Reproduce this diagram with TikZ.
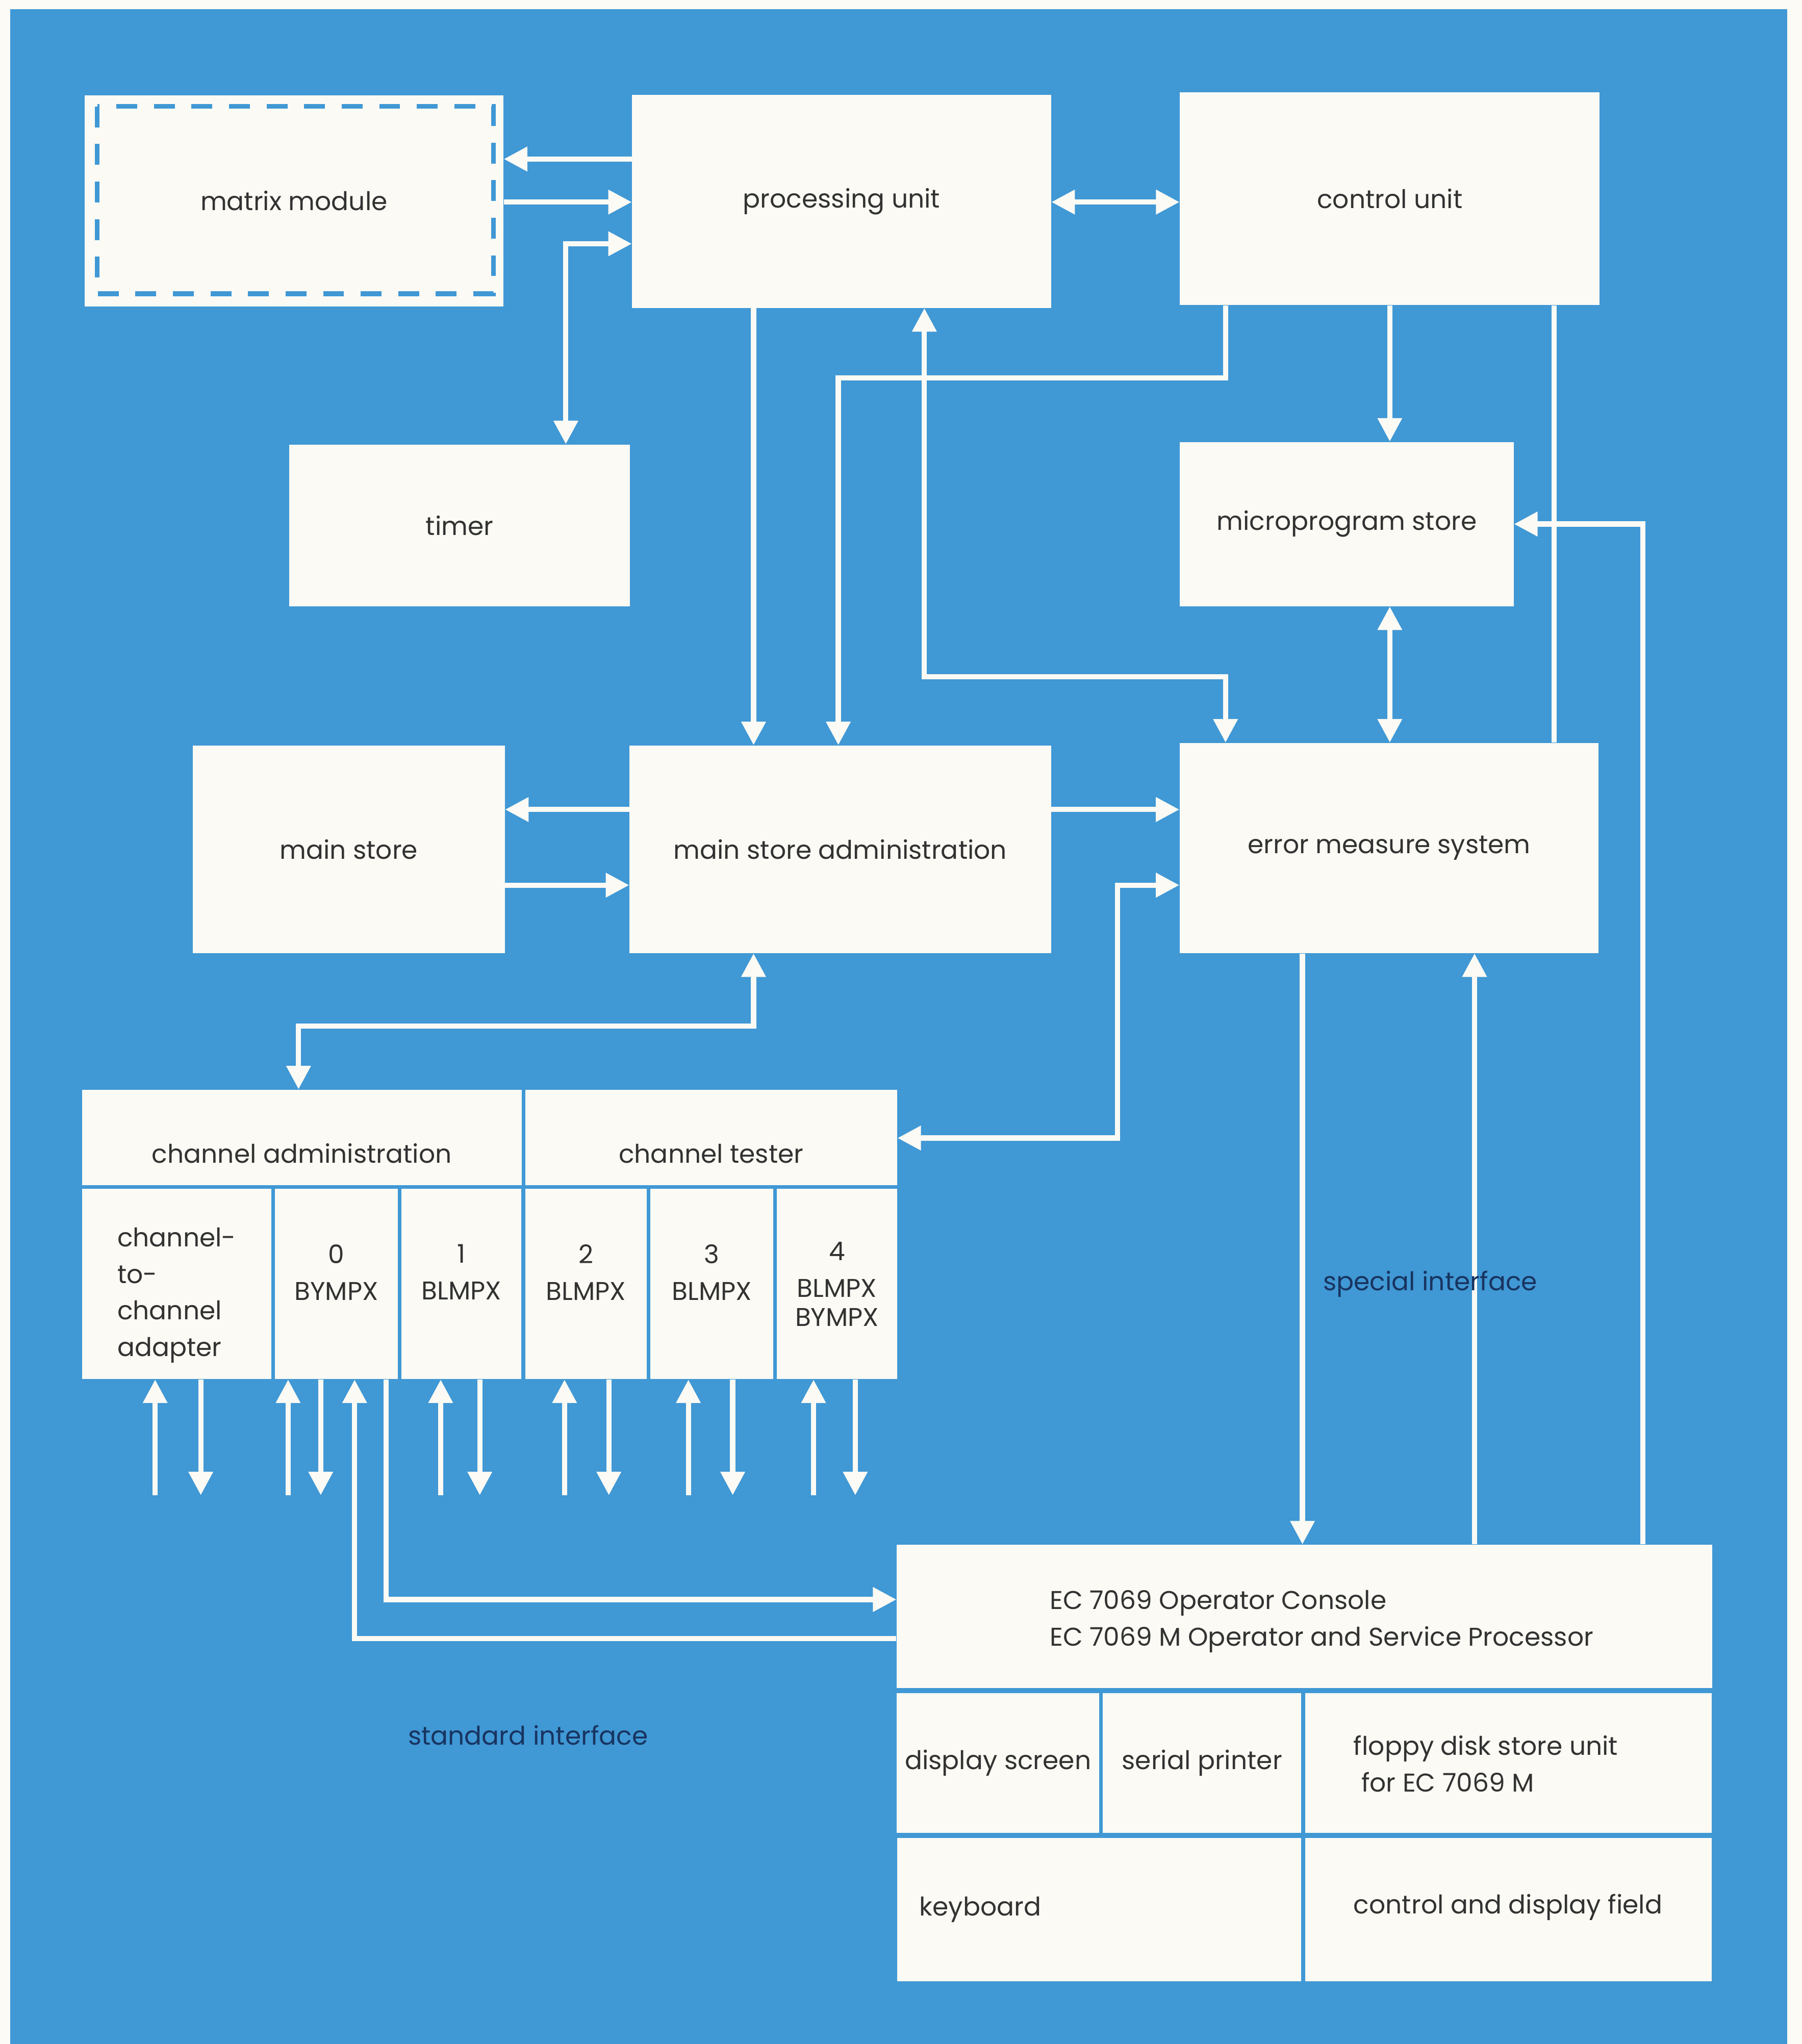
\documentclass[tikz,border=0pt]{standalone}
\usepackage{fontspec}
\setmainfont{Poppins}
\usetikzlibrary{arrows.meta}
\definecolor{blueColor}{RGB}{64,152,213}
\definecolor{paperColor}{RGB}{251,250,244}
\definecolor{marginColor}{RGB}{253,251,245}
\definecolor{inkColor}{RGB}{50,50,50}
\definecolor{labelColor}{RGB}{24,52,96}

\begin{document}
\begin{tikzpicture}[x=0.025cm, y=-0.025cm,
    >={Triangle[length=4.5mm,width=4.5mm]},
    box/.style={fill=paperColor, text=inkColor, inner sep=0pt, font=\fontsize{14}{20}\selectfont},
    txt/.style={text=inkColor, inner sep=0pt, anchor=west, align=left, font=\fontsize{14}{20}\selectfont},
    lbl/.style={text=labelColor, inner sep=0pt, font=\fontsize{14}{20}\selectfont},
    flow/.style={draw=paperColor, line width=1mm, ->},
    biflow/.style={flow, <->},
    wire/.style={draw=paperColor, line width=1mm},
    dashbox/.style={draw=blueColor, line width=0.9mm, dash pattern=on 4mm off 3.2mm}]
    \useasboundingbox (0,0) rectangle (1382,1568);
    \fill[marginColor] (0,0) rectangle (1382,1568);
    \fill[blueColor] (8,7) rectangle (1371,1568);

    % upper part
    \node[box, minimum width=8.03cm, minimum height=4.05cm] (matrix) at (225.5,154) {matrix module};
    \draw[dashbox] ([shift={(10,9)}]matrix.north west) rectangle ([shift={(-8,-10)}]matrix.south east);
    \node[box, minimum width=8.03cm, minimum height=4.08cm] (processing) at (645.5,154.5) {processing unit};
    \node[box, minimum width=8.05cm, minimum height=4.08cm] (control) at (1066,152.5) {control unit};
    \node[box, minimum width=6.53cm, minimum height=3.1cm] (timer) at (352.5,403) {timer};
    \node[box, minimum width=6.4cm, minimum height=3.15cm] (microprogram) at (1033,402) {microprogram store};
    \node[box, minimum width=5.98cm, minimum height=3.98cm] (mainstore) at (267.5,651.5) {main store};
    \node[box, minimum width=8.08cm, minimum height=3.98cm] (admin) at (644.5,651.5) {main store administration};
    \node[box, minimum width=8.03cm, minimum height=4.03cm] (error) at (1065.5,650.5) {error measure system};

    % channels
    \node[box, minimum width=8.43cm, minimum height=1.83cm, text height=0.98cm, text depth=0pt] (chanadmin) at (231.5,872.5) {channel administration};
    \node[box, minimum width=7.13cm, minimum height=1.83cm, text height=0.98cm, text depth=0pt] (chantester) at (545.5,872.5) {channel tester};
    \node[box, minimum width=3.63cm, minimum height=3.65cm, align=left] (ctc) at (135.5,985) {\phantom{B}\\[-0.25cm]channel-\\to-\\channel\\adapter};
    \foreach \n/\x/\w/\kind in {0/258/2.35/BYMPX, 1/354/2.3/BLMPX, 2/449.5/2.33/BLMPX, 3/546/2.35/BLMPX}
        \node[box, minimum width=\w cm, minimum height=3.65cm, align=center] (ch\n) at (\x,985) {\n\\\kind\\[-0.25cm]\phantom{B}};
    \node[box, minimum width=2.3cm, minimum height=3.65cm, align=center] (ch4) at (642,985) {4\\BLMPX\\[-0.15cm]BYMPX};

    % console
    \node[box, minimum width=15.63cm, minimum height=2.75cm] (console) at (1000.5,1240) {};
    \node[txt] (consoletext) at (805,1244) {EC 7069 Operator Console\\EC 7069 M Operator and Service Processor};
    \node[box, minimum width=3.88cm, minimum height=2.68cm] (screen) at (765.5,1352.5) {display screen};
    \node[box, minimum width=3.8cm, minimum height=2.68cm] (printer) at (922,1352.5) {serial printer};
    \node[box, minimum width=7.8cm, minimum height=2.68cm] (floppy) at (1157,1352.5) {};
    \node[txt] (floppytext) at (1038,1353) {floppy disk store unit\\\hspace*{0.3em}for EC 7069 M};
    \node[box, minimum width=7.75cm, minimum height=2.75cm] (keyboard) at (843,1465) {};
    \node[txt] (keyboardtext) at (705,1465) {keyboard};
    \node[box, minimum width=7.8cm, minimum height=2.75cm] (field) at (1157,1465) {};
    \node[txt] (fieldtext) at (1038,1463) {control and display field};

    % connectors
    \draw[flow] (processing.west |- 0,122) -- (matrix.east |- 0,122);
    \draw[flow] (matrix.east |- 0,155) -- (processing.west |- 0,155);
    \draw[biflow] (timer.north -| 434,0) |- (processing.west |- 0,187);
    \draw[biflow] (processing.east |- 0,155) -- (control.west |- 0,155);
    \draw[flow] (processing.south -| 578,0) -- (admin.north -| 578,0);
    \draw[flow] (control.south -| 940,0) |- (643,290) -- (admin.north -| 643,0);
    \draw[biflow] (processing.south -| 709,0) |- (940,519) -- (error.north -| 940,0);
    \draw[flow] (control.south -| 1066,0) -- (microprogram.north -| 1066,0);
    \draw[biflow] (microprogram.south -| 1066,0) -- (error.north -| 1066,0);
    \draw[wire] (control.south -| 1192,0) -- (error.north -| 1192,0);
    \draw[flow] (console.north -| 1260,0) |- (microprogram.east |- 0,402);
    \draw[flow] (admin.west |- 0,621) -- (mainstore.east |- 0,621);
    \draw[flow] (mainstore.east |- 0,679) -- (admin.west |- 0,679);
    \draw[flow] (admin.east |- 0,621) -- (error.west |- 0,621);
    \draw[biflow] (error.west |- 0,679) -| (857,873) -- (chantester.east |- 0,873);
    \draw[biflow] (admin.south -| 578,0) |- (229,787) -- (chanadmin.north -| 229,0);
    \draw[flow] (error.south -| 999,0) -- (console.north -| 999,0);
    \draw[flow] (console.north -| 1131,0) -- (error.south -| 1131,0);
    \draw[flow] (ch0.south -| 296,0) |- (console.west |- 0,1227);
    \draw[flow] (console.west |- 0,1257) -| (ch0.south -| 272,0);
    \foreach \cellname/\xin/\xout in {ctc/119/154, ch0/221/246, ch1/338/368, ch2/433/467, ch3/528/562, ch4/624/656} {
        \coordinate (\cellname-in) at (\xin,1147);
        \coordinate (\cellname-out) at (\xout,1147);
        \draw[flow] (\cellname-in) -- (\cellname-in |- \cellname.south);
        \draw[flow] (\cellname.south -| \cellname-out) -- (\cellname-out);
    }

    \node[lbl] (special) at (1097,985) {special interface};
    \node[lbl] (standard) at (405,1331) {standard interface};
\end{tikzpicture}
\end{document}
